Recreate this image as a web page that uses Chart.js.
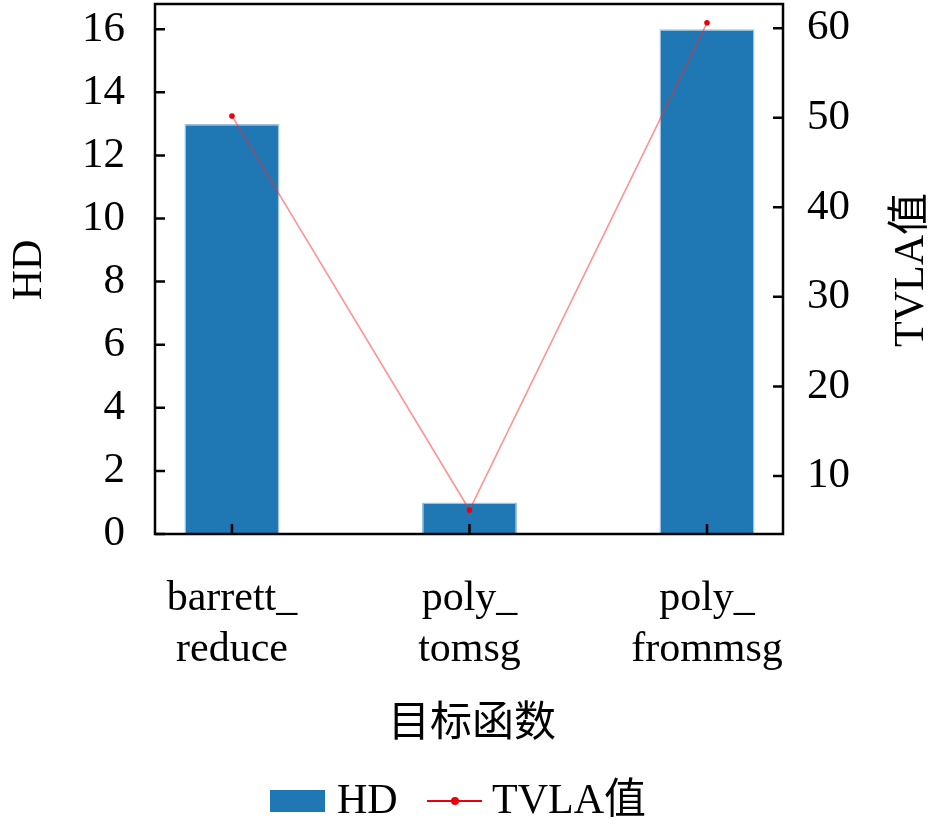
<!DOCTYPE html>
<html>
<head>
<meta charset="utf-8">
<script src="https://cdn.jsdelivr.net/npm/chart.js@4.4.1/dist/chart.umd.min.js"></script>
<style>
  html, body { margin: 0; padding: 0; background: #fff; }
  canvas { display: block; }
</style>
</head>
<body>
<canvas id="myChart" width="945" height="828"></canvas>
<script>
// data
const categories = ['barrett_reduce', 'poly_tomsg', 'poly_frommsg'];
const hdValues = [13, 1, 16];
const tvlaValues = [50.2, 6.2, 60.6];
const hdTicks = [0, 2, 4, 6, 8, 10, 12, 14, 16];
const tvlaTicks = [10, 20, 30, 40, 50, 60];
const xTitle = '目标函数';
const hdTitle = 'HD';
const tvlaTitle = 'TVLA值';

const FONT = "'Liberation Serif', 'Noto Sans CJK SC', serif";
const BLUE = '#1f77b4';

// split "poly_tomsg" -> ["poly_", "tomsg"]
function splitName(name) {
  const i = name.indexOf('_');
  return [name.slice(0, i + 1), name.slice(i + 1)];
}

// frame, inward ticks, titles and legend
const decorations = {
  id: 'decorations',
  afterDraw(chart) {
    const {ctx, chartArea: a, scales} = chart;
    ctx.save();
    ctx.strokeStyle = '#000';
    ctx.lineWidth = 2.5;
    ctx.strokeRect(a.left, a.top, a.right - a.left, a.bottom - a.top);

    // inward tick marks
    ctx.beginPath();
    hdTicks.forEach(v => {
      const y = scales.y.getPixelForValue(v);
      ctx.moveTo(a.left, y); ctx.lineTo(a.left + 10, y);
    });
    tvlaTicks.forEach(v => {
      const y = scales.y1.getPixelForValue(v);
      ctx.moveTo(a.right, y); ctx.lineTo(a.right - 10, y);
    });
    categories.forEach((c, i) => {
      const x = scales.x.getPixelForValue(i);
      ctx.moveTo(x, a.bottom); ctx.lineTo(x, a.bottom - 10);
    });
    ctx.stroke();

    // axis titles
    ctx.fillStyle = '#000';
    ctx.font = '42px ' + FONT;
    ctx.textAlign = 'center';
    ctx.textBaseline = 'middle';
    ctx.fillText(xTitle, 472, 725);

    ctx.save();
    ctx.translate(30, 270);
    ctx.rotate(-Math.PI / 2);
    ctx.fillText(hdTitle, 0, 0);
    ctx.restore();

    ctx.save();
    ctx.translate(912, 270);
    ctx.rotate(-Math.PI / 2);
    ctx.fillText(tvlaTitle, 0, 0);
    ctx.restore();

    // legend
    const ly = 801;
    ctx.fillStyle = BLUE;
    ctx.fillRect(270, ly - 11, 55, 22);
    ctx.fillStyle = '#000';
    ctx.textAlign = 'left';
    ctx.fillText(chart.data.datasets[0].label, 337, ly + 1);

    ctx.strokeStyle = '#e8000b';
    ctx.lineWidth = 1.8;
    ctx.beginPath();
    ctx.moveTo(427, ly); ctx.lineTo(482, ly);
    ctx.stroke();
    ctx.fillStyle = '#e8000b';
    ctx.beginPath();
    ctx.arc(455, ly, 4, 0, Math.PI * 2);
    ctx.fill();
    ctx.fillStyle = '#000';
    ctx.fillText(chart.data.datasets[1].label, 492, ly + 1);
    ctx.restore();
  }
};

const data = {
  datasets: [{
    type: 'bar',
    label: 'HD',
    data: hdValues.map((v, i) => ({x: i, y: v})),
    backgroundColor: BLUE,
    borderColor: '#9cc3e0',
    borderWidth: 1.5,
    barPercentage: 0.4,
    categoryPercentage: 1,
    yAxisID: 'y',
    order: 1
  }, {
    type: 'line',
    label: 'TVLA值',
    data: tvlaValues.map((v, i) => ({x: i, y: v})),
    borderColor: 'rgba(255, 40, 40, 0.5)',
    borderWidth: 1.6,
    pointRadius: 2.8,
    pointBackgroundColor: '#e8000b',
    pointBorderWidth: 0,
    yAxisID: 'y1',
    order: 0
  }]
};

function noPadding(s) {
  s.paddingTop = 0; s.paddingBottom = 0;
  s.paddingLeft = 0; s.paddingRight = 0;
}

const config = {
  type: 'bar',
  data,
  options: {
    responsive: false,
    animation: false,
    layout: { padding: { top: 1.5, left: 0, right: 0, bottom: 0 } },
    plugins: {
      legend: { display: false },
      tooltip: { enabled: false }
    },
    scales: {
      x: {
        type: 'linear',
        offset: false,
        min: -0.324,
        max: 2.32,
        grid: { display: false, drawTicks: false, offset: false },
        border: { display: false },
        afterBuildTicks: s => { s.ticks = categories.map((c, i) => ({value: i})); },
        afterFit: s => { s.height = 294; noPadding(s); },
        ticks: {
          padding: 40,
          color: '#000',
          maxRotation: 0,
          autoSkip: false,
          font: { family: FONT, size: 42, lineHeight: 1.2 },
          callback: v => splitName(categories[v])
        }
      },
      y: {
        position: 'left',
        min: 0,
        max: 16.8,
        grid: { display: false, drawTicks: false },
        border: { display: false },
        afterBuildTicks: s => { s.ticks = hdTicks.map(v => ({value: v})); },
        afterFit: s => { s.width = 155; noPadding(s); },
        ticks: {
          padding: 30,
          color: '#000',
          font: { family: FONT, size: 43 }
        }
      },
      y1: {
        position: 'right',
        min: 3.52,
        max: 62.7,
        grid: { display: false, drawTicks: false },
        border: { display: false },
        afterBuildTicks: s => { s.ticks = tvlaTicks.map(v => ({value: v})); },
        afterFit: s => { s.width = 162; noPadding(s); },
        ticks: {
          padding: 24,
          color: '#000',
          font: { family: FONT, size: 43 }
        }
      }
    }
  },
  plugins: [decorations]
};

const myChart = new Chart(document.getElementById('myChart'), config);
</script>
</body>
</html>
